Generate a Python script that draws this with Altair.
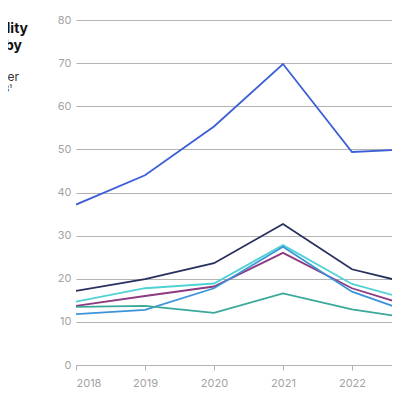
import altair as alt
import pandas as pd

years = [2018, 2019, 2020, 2021, 2022, 2023]

series_names = ["Series A", "Series B", "Series C", "Series D", "Series E", "Series F"]
series_colors = ["#3d5fd6", "#27305f", "#4fd2d6", "#8e3a80", "#3c94d8", "#3aa89a"]

series_a = [37.2, 44.0, 55.3, 69.8, 49.4, 50.1]
series_b = [17.2, 19.9, 23.6, 32.7, 22.2, 18.3]
series_c = [14.7, 17.8, 18.9, 27.8, 18.8, 14.4]
series_d = [13.7, 16.0, 18.2, 26.0, 17.8, 12.9]
series_e = [11.8, 12.8, 17.8, 27.4, 17.0, 11.4]
series_f = [13.5, 13.7, 12.1, 16.6, 12.9, 10.5]

all_values = [series_a, series_b, series_c, series_d, series_e, series_f]

rows = []
for name, vals in zip(series_names, all_values):
    for yr, v in zip(years, vals):
        rows.append({"year": yr, "value": v, "series": name})
df = pd.DataFrame(rows)

FONT = "Inter"
GRAY = "#a3a3a3"

lines = (
    alt.Chart(df)
    .mark_line(strokeWidth=1.8, clip=True)
    .encode(
        x=alt.X(
            "year:Q",
            title=None,
            scale=alt.Scale(domain=[2018, 2022.58], nice=False, zero=False),
            axis=alt.Axis(
                values=[2018, 2019, 2020, 2021, 2022],
                format="d",
                grid=False,
                domainColor="#b3b3b3",
                tickColor="#b3b3b3",
                tickSize=5,
                labelColor=GRAY,
                labelFontSize=11,
                labelFont=FONT,
                labelPadding=7,
            ),
        ),
        y=alt.Y(
            "value:Q",
            title=None,
            scale=alt.Scale(domain=[0, 80], nice=False),
            axis=alt.Axis(
                values=[0, 10, 20, 30, 40, 50, 60, 70, 80],
                domain=False,
                ticks=False,
                gridColor="#b3b3b3",
                gridWidth=1,
                labelColor=GRAY,
                labelFontSize=11,
                labelFont=FONT,
                labelPadding=5,
            ),
        ),
        color=alt.Color(
            "series:N",
            scale=alt.Scale(domain=series_names, range=series_colors),
            legend=None,
        ),
        detail="series:N",
    )
)

one_row = alt.Data(values=[{}])

def side_text(text, x, y, size, weight, color):
    return alt.Chart(one_row).mark_text(
        align="right",
        baseline="middle",
        fontSize=size,
        fontWeight=weight,
        font=FONT,
        color=color,
        text=text,
    ).encode(x=alt.value(x), y=alt.value(y))

title1 = side_text("Index of water quality", -48, 9, 14, "bold", "#111111")
title2 = side_text("in rivers, by", -54, 26, 14, "bold", "#111111")
sub1 = side_text("Monthly average number", -57, 57, 12, "normal", "#333333")
sub2 = side_text("2018–23¹", -64, 69, 9, "normal", "#333333")

chart = (
    alt.layer(lines, title1, title2, sub1, sub2)
    .properties(
        width=316,
        height=345,
        autosize=alt.AutoSizeParams(type="none"),
        padding={"left": 68, "top": 12, "right": 0, "bottom": 23},
    )
    .configure_view(stroke=None)
)

chart.save("out.html", embed_options={"renderer": "svg", "actions": False})
